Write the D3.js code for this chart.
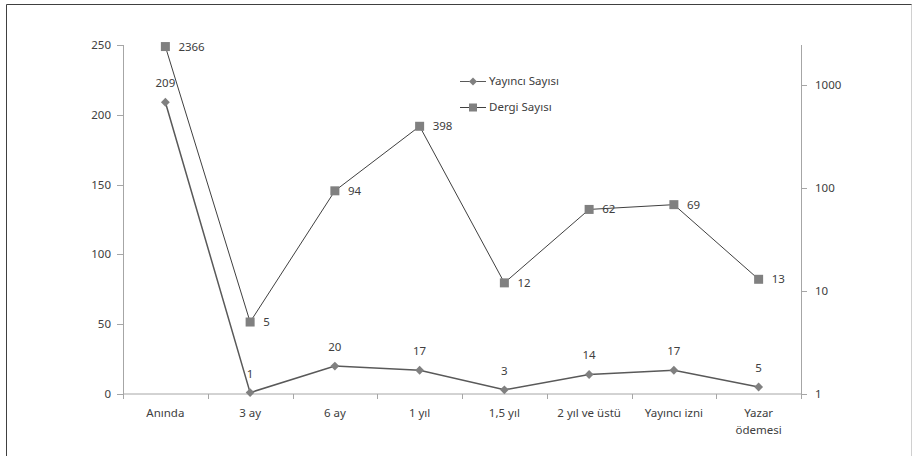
<!DOCTYPE html>
<html>
<head>
<meta charset="utf-8">
<script src="https://cdn.jsdelivr.net/npm/d3@7"></script>
<style>
  body { margin: 0; background: #fff; }
  text { font-family: "Noto Sans", "DejaVu Sans", sans-serif; font-size: 11.5px; fill: #404040; }
</style>
</head>
<body>
<div id="chart"></div>
<script>
  // Data //
  var categories = ["Anında", "3 ay", "6 ay", "1 yıl", "1,5 yıl", "2 yıl ve üstü", "Yayıncı izni", "Yazar ödemesi"]
  var yayinciSayisi = [209, 1, 20, 17, 3, 14, 17, 5]
  var dergiSayisi = [2366, 5, 94, 398, 12, 62, 69, 13]
  var leftTicks = [0, 50, 100, 150, 200, 250]
  var rightTicks = [1, 10, 100, 1000]

  // SVG Setup //
  var width = 914,
    height = 456,
    margin = {top: 45, bottom: 62, left: 123, right: 113}

  var svg = d3.select("#chart").append("svg")
    .attr("width", width)
    .attr("height", height)

  // frame
  svg.append("line").attr("x1", 6.5).attr("x2", 912).attr("y1", 4.5).attr("y2", 4.5)
    .attr("stroke", "#404040")
  svg.append("line").attr("x1", 6.5).attr("x2", 6.5).attr("y1", 4.5).attr("y2", height)
    .attr("stroke", "#404040")
  svg.append("line").attr("x1", 911.5).attr("x2", 911.5).attr("y1", 4.5).attr("y2", height)
    .attr("stroke", "#d0d0d0")

  var g = svg.append("g")
    .attr("transform", "translate(" + margin.left + "," + margin.top + ")")

  var w = width - margin.left - margin.right,
    h = height - margin.top - margin.bottom

  // Scales //
  var x = d3.scaleBand().domain(categories).range([0, w])
  var yLeft = d3.scaleLinear().domain([0, 250]).range([h, 0])
  var yRight = d3.scaleLog().domain([1, 2450]).range([h, 0])

  var axisColor = "#a6a6a6"

  // Axes //
  var xAxis = g.append("g").attr("transform", "translate(0," + h + ")")
  xAxis.append("line").attr("x1", 0).attr("x2", w).attr("stroke", axisColor)
  xAxis.selectAll(".tk").data(d3.range(categories.length + 1)).enter().append("line")
    .attr("x1", function(i) { return Math.round(i * x.step()) + 0.5 })
    .attr("x2", function(i) { return Math.round(i * x.step()) + 0.5 })
    .attr("y1", 0).attr("y2", 5).attr("stroke", axisColor)

  var xl = xAxis.selectAll(".xl").data(categories).enter().append("text")
    .attr("text-anchor", "middle")
    .attr("x", function(d) { return x(d) + x.bandwidth() / 2 })
    .attr("y", 23)
  xl.each(function(d) {
    var t = d3.select(this)
    var lines = d === "Yazar ödemesi" ? ["Yazar", "ödemesi"] : [d]
    lines.forEach(function(s, i) {
      t.append("tspan").attr("x", x(d) + x.bandwidth() / 2).attr("dy", i ? 17 : 0).text(s)
    })
  })

  var leftAxis = g.append("g")
  leftAxis.append("line").attr("x1", 0.5).attr("x2", 0.5).attr("y1", 0).attr("y2", h).attr("stroke", axisColor)
  leftAxis.selectAll(".lt").data(leftTicks).enter().append("line")
    .attr("x1", -6).attr("x2", 0)
    .attr("y1", function(d) { return Math.round(yLeft(d)) + 0.5 })
    .attr("y2", function(d) { return Math.round(yLeft(d)) + 0.5 })
    .attr("stroke", axisColor)
  leftAxis.selectAll(".ll").data(leftTicks).enter().append("text")
    .attr("text-anchor", "end")
    .attr("x", -12)
    .attr("y", function(d) { return yLeft(d) + 4 })
    .text(function(d) { return d })

  var rightAxis = g.append("g").attr("transform", "translate(" + w + ",0)")
  rightAxis.append("line").attr("x1", 0.5).attr("x2", 0.5).attr("y1", 0).attr("y2", h).attr("stroke", axisColor)
  rightAxis.selectAll(".rt").data(rightTicks).enter().append("line")
    .attr("x1", 0).attr("x2", 6)
    .attr("y1", function(d) { return Math.round(yRight(d)) + 0.5 })
    .attr("y2", function(d) { return Math.round(yRight(d)) + 0.5 })
    .attr("stroke", axisColor)
  rightAxis.selectAll(".rl").data(rightTicks).enter().append("text")
    .attr("x", 14)
    .attr("y", function(d) { return yRight(d) + 4 })
    .text(function(d) { return d })

  var cx = function(i) { return x(categories[i]) + x.bandwidth() / 2 }

  // Lines //
  var lineLeft = d3.line().x(function(d, i) { return cx(i) }).y(function(d) { return yLeft(d) })
  var lineRight = d3.line().x(function(d, i) { return cx(i) }).y(function(d) { return yRight(d) })

  g.append("path").datum(dergiSayisi).attr("d", lineRight)
    .attr("fill", "none").attr("stroke", "#404040").attr("stroke-width", 1)
  g.append("path").datum(yayinciSayisi).attr("d", lineLeft)
    .attr("fill", "none").attr("stroke", "#595959").attr("stroke-width", 1.5)

  var markerColor = "#808080"
  var diamond = d3.symbol().type(d3.symbolDiamond2).size(50)

  g.selectAll(".sq").data(dergiSayisi).enter().append("rect")
    .attr("x", function(d, i) { return cx(i) - 4.5 })
    .attr("y", function(d) { return yRight(d) - 4.5 })
    .attr("width", 9).attr("height", 9)
    .attr("fill", markerColor)
  g.selectAll(".dm").data(yayinciSayisi).enter().append("path")
    .attr("d", diamond)
    .attr("transform", function(d, i) { return "translate(" + cx(i) + "," + yLeft(d) + ")" })
    .attr("fill", markerColor)

  // Data labels //
  g.selectAll(".dl").data(dergiSayisi).enter().append("text")
    .attr("x", function(d, i) { return cx(i) + 13 })
    .attr("y", function(d) { return yRight(d) + 4 })
    .text(function(d) { return d })
  g.selectAll(".yl").data(yayinciSayisi).enter().append("text")
    .attr("text-anchor", "middle")
    .attr("x", function(d, i) { return cx(i) })
    .attr("y", function(d) { return yLeft(d) - 15 })
    .text(function(d) { return d })

  // Legend //
  var legend = svg.append("g").attr("transform", "translate(460,81)")
  var items = [
    {name: "Yayıncı Sayısı", type: "diamond"},
    {name: "Dergi Sayısı", type: "square"}
  ]
  var li = legend.selectAll(".li").data(items).enter().append("g")
    .attr("transform", function(d, i) { return "translate(0," + i * 26 + ")" })
  li.append("line").attr("x1", 0).attr("x2", 26).attr("y1", 0.5).attr("y2", 0.5)
    .attr("stroke", function(d) { return d.type === "diamond" ? "#595959" : "#404040" })
  li.each(function(d) {
    var s = d3.select(this)
    if (d.type === "diamond") {
      s.append("path").attr("d", d3.symbol().type(d3.symbolDiamond2).size(40))
        .attr("transform", "translate(13,0.5)").attr("fill", markerColor)
    } else {
      s.append("rect").attr("x", 9).attr("y", -3.5).attr("width", 8).attr("height", 8)
        .attr("fill", markerColor)
    }
  })
  li.append("text").attr("x", 29).attr("y", 4).text(function(d) { return d.name })
</script>
</body>
</html>
